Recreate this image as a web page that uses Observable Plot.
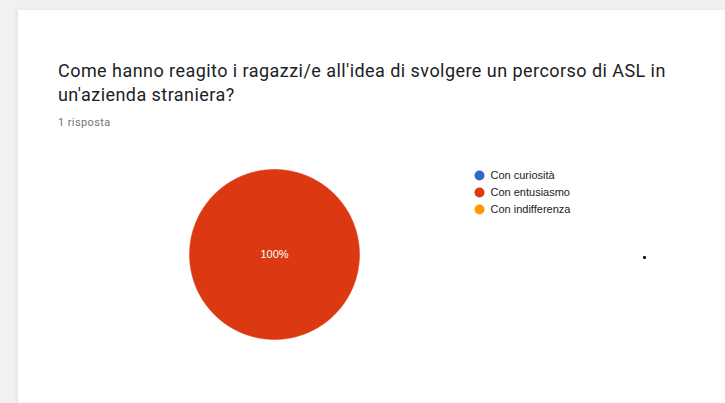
<!DOCTYPE html>
<html>
<head>
<meta charset="utf-8">
<script src="https://cdn.jsdelivr.net/npm/d3@7"></script>
<script src="https://cdn.jsdelivr.net/npm/@observablehq/plot@0.6"></script>
<style>
  html, body { margin: 0; padding: 0; }
  body { width: 725px; height: 403px; background: #f1f1f1; position: relative; overflow: hidden; font-family: Roboto, Arial, sans-serif; }
  #card { position: absolute; left: 18px; top: 10px; width: 720px; height: 400px; background: #fff; box-shadow: -2px 0 4px rgba(0,0,0,0.06); }
  #title { position: absolute; left: 58px; top: 59px; width: 660px; font-size: 18px; line-height: 24px; letter-spacing: 0.45px; color: #202124; font-family: Roboto, Arial, sans-serif; }
  #sub { position: absolute; left: 58px; top: 116px; font-size: 11px; letter-spacing: 0.4px; color: #70757a; font-family: Roboto, Arial, sans-serif; }
  #pie { position: absolute; left: 174px; top: 154px; }
  #legend { position: absolute; left: 473px; top: 165px; }
  #speck { position: absolute; left: 643px; top: 256px; width: 3px; height: 3px; background: #111; border-radius: 1px; }
</style>
</head>
<body>
<div id="card"></div>
<div id="title">Come hanno reagito i ragazzi/e all'idea di svolgere un percorso di ASL in<br>un'azienda straniera?</div>
<div id="sub">1 risposta</div>
<div id="pie"></div>
<div id="legend"></div>
<div id="speck"></div>
<script>
const categories = ["Con curiosità", "Con entusiasmo", "Con indifferenza"];
const values = [0, 1, 0];
const colors = ["#3366cc", "#dc3912", "#ff9900"];

const data = categories.map((c, i) => ({cat: c, value: values[i]}));
const total = d3.sum(values);
const arcs = d3.pie().sort(null).value(d => d.value)(data);

// build slice outlines (unit radius) from pie angles
const pts = [];
const labels = [];
arcs.forEach(a => {
  if (a.endAngle - a.startAngle <= 0) return;
  const full = (a.endAngle - a.startAngle) >= 2 * Math.PI - 1e-9;
  const n = Math.max(2, Math.ceil((a.endAngle - a.startAngle) / 0.01));
  if (!full) pts.push({cat: a.data.cat, x: 0, y: 0});
  for (let k = 0; k <= n; k++) {
    const t = a.startAngle + (a.endAngle - a.startAngle) * k / n;
    pts.push({cat: a.data.cat, x: Math.sin(t), y: Math.cos(t)});
  }
  const mid = (a.startAngle + a.endAngle) / 2;
  const rr = full ? 0 : 0.6;
  labels.push({cat: a.data.cat, x: rr * Math.sin(mid), y: rr * Math.cos(mid), text: Math.round(100 * a.data.value / total) + "%"});
});

const color = {domain: categories, range: colors};

const pie = Plot.plot({
  width: 200, height: 200,
  margin: 15,
  x: {domain: [-1, 1], axis: null},
  y: {domain: [-1, 1], axis: null},
  color,
  marks: [
    Plot.line(pts, {x: "x", y: "y", z: "cat", fill: "cat", stroke: "cat", strokeWidth: 0.5, curve: "linear-closed"}),
    Plot.text(labels, {x: "x", y: "y", text: "text", fill: "white", fontSize: 11, fontFamily: "Arial, 'Liberation Sans', sans-serif"})
  ]
});
document.getElementById("pie").appendChild(pie);

const legend = Plot.plot({
  width: 160, height: 54,
  marginTop: 10, marginBottom: 10, marginLeft: 6, marginRight: 0,
  y: {type: "point", domain: categories, axis: null, padding: 0},
  x: {axis: null},
  color,
  marks: [
    Plot.dot(categories, {y: d => d, fill: d => d, r: 5, frameAnchor: "left"}),
    Plot.text(categories, {y: d => d, text: d => d, frameAnchor: "left", dx: 11, textAnchor: "start", fill: "#222", fontSize: 11, fontFamily: "Arial, 'Liberation Sans', sans-serif"})
  ]
});
document.getElementById("legend").appendChild(legend);
</script>
</body>
</html>
